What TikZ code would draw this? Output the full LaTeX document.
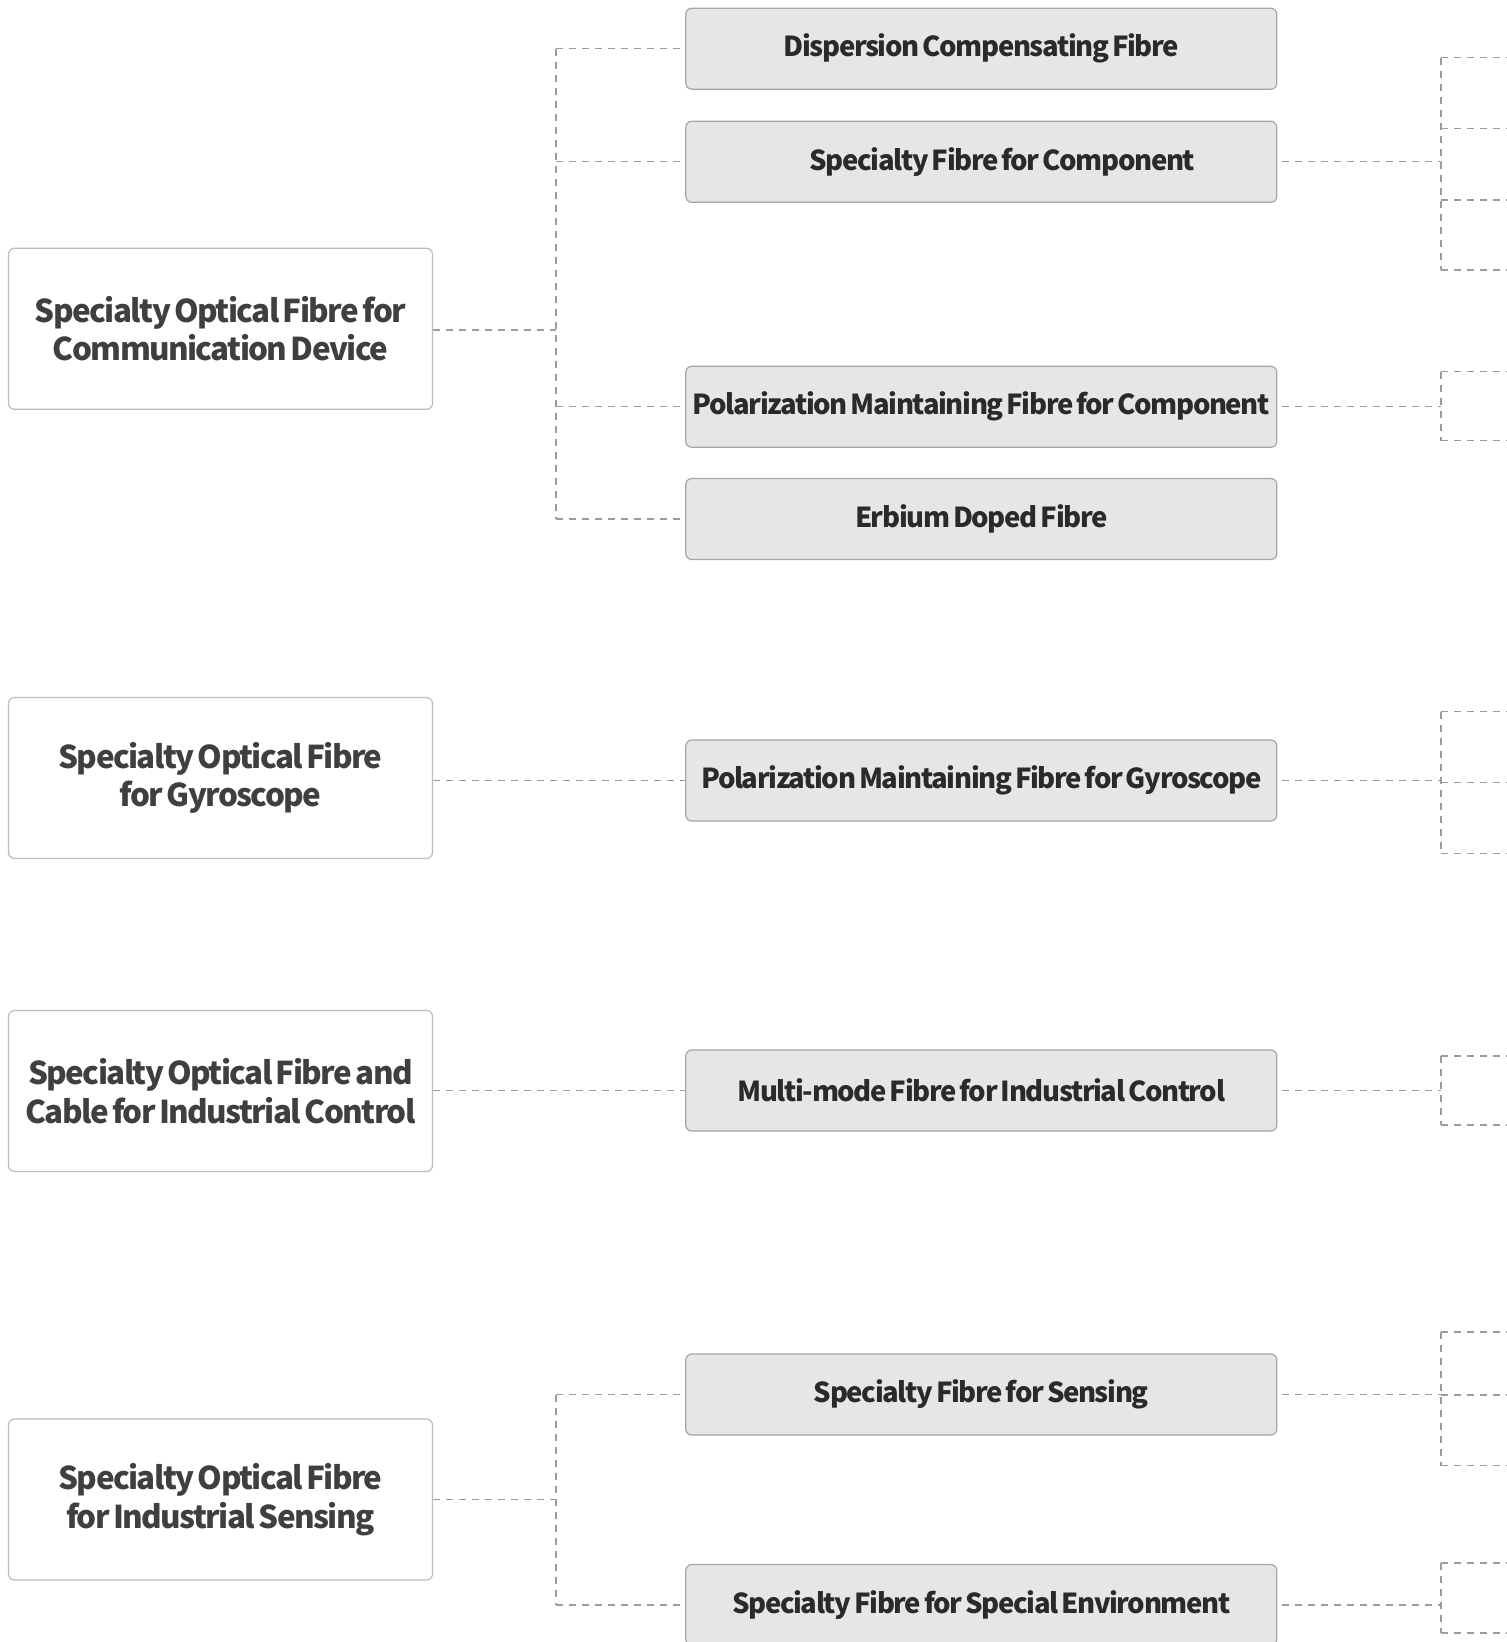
\documentclass[tikz,border=0pt]{standalone}
\usepackage{fontspec}
\setmainfont{Noto Sans CJK SC}
\newfontfamily\groupfont{Noto Sans CJK SC}[LetterSpace=-5, WordSpace=0.6]
\newfontfamily\itemfont{Noto Sans CJK SC}[LetterSpace=-5, WordSpace=0.6]
\usetikzlibrary{arrows}
\definecolor{linegray}{HTML}{9C9C9C}
\definecolor{boxgray}{HTML}{E6E6E6}
\definecolor{edgegray}{HTML}{A6A6A6}
\definecolor{textdark}{HTML}{2A2A2A}
\tikzset{
  group/.style={draw=edgegray!75, fill=white, rounded corners=6pt, line width=1.2pt,
    minimum width=424pt, minimum height=161pt, inner xsep=0pt, align=center, text=textdark!90,
    font=\groupfont\bfseries\fontsize{31.4}{38.7}\selectfont},
  item/.style={draw=edgegray, fill=boxgray, rounded corners=6pt, line width=1.2pt,
    minimum width=591pt, minimum height=81pt, inner xsep=0pt, text=textdark,
    font=\itemfont\bfseries\fontsize{27.5}{32}\selectfont},
  link/.style={draw=linegray, line width=1.3pt, dash pattern=on 7pt off 6pt}
}

\begin{document}
\begin{tikzpicture}[x=1pt,y=-1pt]
\useasboundingbox (0,0) rectangle (1507,1642);
%left boxes
\node[group] (commdev) at (220.5,328.8) {Specialty Optical Fibre for\\Communication Device};
\node[group] (gyro) at (220.5,778) {Specialty Optical Fibre\\for Gyroscope};
\node[group] (indctrl) at (220.5,1091) {Specialty Optical Fibre and\\Cable for Industrial Control};
\node[group] (indsens) at (220.5,1499.5) {Specialty Optical Fibre\\for Industrial Sensing};
%middle boxes
\node[item] (dcf) at (981.3,48.7) {Dispersion Compensating Fibre};
\node[item] (sfc) at (981.3,161.8) {\hspace*{42pt}Specialty Fibre for Component};
\node[item] (pmc) at (981.3,406.8) {Polarization Maintaining Fibre for Component};
\node[item] (edf) at (981.3,519) {Erbium Doped Fibre};
\node[item] (pmg) at (981.3,780.5) {Polarization Maintaining Fibre for Gyroscope};
\node[item] (mmf) at (981.3,1090.5) {Multi-mode Fibre for Industrial Control};
\node[item] (sfs) at (981.3,1394.5) {Specialty Fibre for Sensing};
\node[item] (sfe) at (981.3,1605) {Specialty Fibre for Special Environment};
%left branches
\coordinate (b1) at (556,330);
\draw[link] (commdev.east |- b1) -- (b1);
\draw[link] (b1 |- dcf) -- (b1 |- edf);
\foreach \n in {dcf,sfc,pmc,edf}
  \draw[link] (b1 |- \n) -- (\n.west);
\draw[link] (gyro.east |- pmg) -- (pmg.west);
\draw[link] (indctrl.east |- mmf) -- (mmf.west);
\coordinate (b4) at (556,1499.5);
\draw[link] (indsens.east) -- (b4);
\draw[link] (b4 |- sfs) -- (b4 |- sfe);
\foreach \n in {sfs,sfe}
  \draw[link] (b4 |- \n) -- (\n.west);
%right branches
\coordinate (rx) at (1441,0);
\foreach \n in {sfc,pmc,pmg,mmf,sfs,sfe}
  \draw[link] ([xshift=5pt]\n.east) -- (rx |- \n);
\foreach \n/\ys in {sfc/{57.7,128.7,200,270},pmc/{371.7,440.7},pmg/{711.7,782.7,853.3},
    mmf/{1056,1125},sfs/{1332,1395,1465.7},sfe/{1563,1633}}{
  \foreach \y [count=\i] in \ys
    \coordinate (\n\i) at (1507,\y);
}
\draw[link] (rx |- sfc1) -- (rx |- sfc4);
\draw[link] (rx |- pmc1) -- (rx |- pmc2);
\draw[link] (rx |- pmg1) -- (rx |- pmg3);
\draw[link] (rx |- mmf1) -- (rx |- mmf2);
\draw[link] (rx |- sfs1) -- (rx |- sfs3);
\draw[link] (rx |- sfe1) -- (rx |- sfe2);
\foreach \c in {sfc1,sfc2,sfc3,sfc4,pmc1,pmc2,pmg1,pmg2,pmg3,mmf1,mmf2,sfs1,sfs2,sfs3,sfe1,sfe2}
  \draw[link] (rx |- \c) -- (\c);
\end{tikzpicture}
\end{document}
